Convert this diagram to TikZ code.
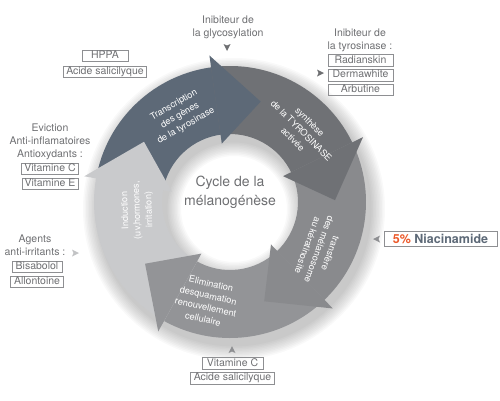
\documentclass[tikz,border=0pt]{standalone}
\usepackage{fontspec}
\setmainfont{TeX Gyre Heros}
\usetikzlibrary{positioning}
\definecolor{Slate}{HTML}{5D6977}
\definecolor{SynthGray}{HTML}{6F7175}
\definecolor{TransfGray}{HTML}{898A8D}
\definecolor{ElimGray}{HTML}{939497}
\definecolor{InducGray}{HTML}{C9CACC}
\definecolor{TextGray}{HTML}{6E6F72}
\definecolor{BoxGray}{HTML}{8E8F92}
\definecolor{MarkGray}{HTML}{C2C3C5}
\definecolor{NiaOrange}{HTML}{EC5A2B}

\begin{document}
\begin{tikzpicture}[x=1pt, y=-1pt,
    tag/.style={draw=BoxGray, line width=0.6pt, text=TextGray, font=\fontsize{10.5}{12}\selectfont, inner sep=0pt, minimum height=11.5pt, text height=7.8pt, text depth=2.2pt},
    note/.style={text=TextGray, font=\fontsize{10.5}{13}\selectfont, align=center, inner sep=0pt},
    steptext/.style={text=white, font=\fontsize{9.2}{12}\selectfont, align=center, inner sep=0pt}]
    \useasboundingbox (0,0) rectangle (500,400);

    % Cycle ring
    \begin{scope}[shift={(230,202)}, yscale=-1]
        % soft shadow under the ring
        \foreach \d in {1,...,10}
            \fill[black, opacity=0.022, even odd rule] (4,-7) circle (136+1.5*\d) (4,-7) circle (68-1.5*\d);

        % Arrow bodies
        \fill[Slate] (170:136) arc[start angle=170, end angle=96.5, radius=136] -- (96.5:68) arc[start angle=96.5, end angle=170, radius=68] -- cycle;
        \fill[SynthGray] (98:136) arc[start angle=98, end angle=24.5, radius=136] -- (24.5:68) arc[start angle=24.5, end angle=98, radius=68] -- cycle;
        \fill[TransfGray] (26:136) arc[start angle=26, end angle=-47.5, radius=136] -- (-47.5:68) arc[start angle=-47.5, end angle=26, radius=68] -- cycle;
        \fill[ElimGray] (-46:136) arc[start angle=-46, end angle=-120.5, radius=136] -- (-120.5:68) arc[start angle=-120.5, end angle=-46, radius=68] -- cycle;
        \fill[InducGray] (-119:136) arc[start angle=-119, end angle=-191.5, radius=136] -- (-191.5:68) arc[start angle=-191.5, end angle=-119, radius=68] -- cycle;

        % Arrow heads
        \fill[Slate] (98:148) -- (73:105) -- (98:59) -- cycle;
        \fill[SynthGray] (26:148) -- (1:105) -- (26:59) -- cycle;
        \fill[TransfGray] (-46:148) -- (-71:105) -- (-46:59) -- cycle;
        \fill[ElimGray] (-119:148) -- (-144:105) -- (-119:59) -- cycle;
        \fill[InducGray] (170:148) -- (145:105) -- (170:59) -- cycle;

        % Step texts
        \node[steptext, rotate=30] (transcription) at (120:100) {Transcription\\des gènes\\de la tyrosinase};
        \node[steptext, rotate=-45] (synthese) at (45:101) {synthèse\\de la TYROSINASE\\activée};
        \node[steptext, rotate=-110] (transfert) at (-28:101) {transfère\\des mélanosome\\au kératinosite};
        \node[steptext, rotate=-13] (elimination) at (-103:102) {Elimination\\desquamation\\renouvellement\\cellulaire};
        \node[steptext, rotate=92] (induction) at (185:93) {Induction\\(uv,hormones,\\irritation)};

        \node[text=TextGray, font=\fontsize{14}{19}\selectfont, align=center] (cycle) at (0,10) {Cycle de la\\mélanogénèse};
    \end{scope}

    % Top: glycosylation
    \node[note] (glyco) at (228,27.5) {Inibiteur de\\la glycosylation};
    \fill[TextGray, shift={(227,47)}, rotate=-90] (4,0) -- (-3,-3.5) -- (-1.5,0) -- (-3,3.5) -- cycle;

    % Top left
    \node[tag, minimum width=46pt] (hppa) at (105,56) {HPPA};
    \node[tag, minimum width=83pt, below=3.5pt of hppa] (acideA) {Acide salicilyque};

    % Left: eviction
    \node[note] (eviction) at (50,141.5) {Eviction\\Anti-inflamatoires\\Antioxydants :};
    \node[tag, minimum width=57pt] (vitC) at (50,169) {Vitamine C};
    \node[tag, minimum width=56pt, below=2.5pt of vitC] (vitE) {Vitamine E};

    % Left: anti-irritants
    \node[note] (agents) at (35,245.5) {Agents\\anti-irritants :};
    \fill[MarkGray, shift={(75,253)}] (4,0) -- (-3,-3.5) -- (-1.5,0) -- (-3,3.5) -- cycle;
    \node[tag, minimum width=50pt] (bisabolol) at (37,267) {Bisabolol};
    \node[tag, minimum width=53pt, below=2.5pt of bisabolol] (allontoine) {Allontoine};

    % Bottom
    \fill[BoxGray, shift={(232,350)}, rotate=90] (4,0) -- (-3,-3.5) -- (-1.5,0) -- (-3,3.5) -- cycle;
    \node[tag, minimum width=61pt] (vitCb) at (232.5,363.5) {Vitamine C};
    \node[tag, minimum width=84pt, below=2.5pt of vitCb] (acideB) {Acide salicilyque};

    % Top right: tyrosinase
    \node[note] (tyro) at (360,40) {Inibiteur de\\la tyrosinase :};
    \fill[TextGray, shift={(320,73)}] (4,0) -- (-3,-3.5) -- (-1.5,0) -- (-3,3.5) -- cycle;
    \node[tag, minimum width=65pt] (radian) at (360.5,60.5) {Radianskin};
    \node[tag, minimum width=65pt, below=2.5pt of radian] (derma) {Dermawhite};
    \node[tag, minimum width=65pt, below=2.5pt of derma] (arbutine) {Arbutine};

    % Right: niacinamide
    \fill[BoxGray, shift={(377,239)}, rotate=180] (4,0) -- (-3,-3.5) -- (-1.5,0) -- (-3,3.5) -- cycle;
    \node[tag, minimum width=113pt, minimum height=15pt, font=\fontsize{12.5}{14}\selectfont\bfseries, text height=9pt, text depth=0pt] (niacin) at (440.5,238.5) {\textcolor{NiaOrange}{5\%} \textcolor{Slate}{Niacinamide}};
\end{tikzpicture}
\end{document}
